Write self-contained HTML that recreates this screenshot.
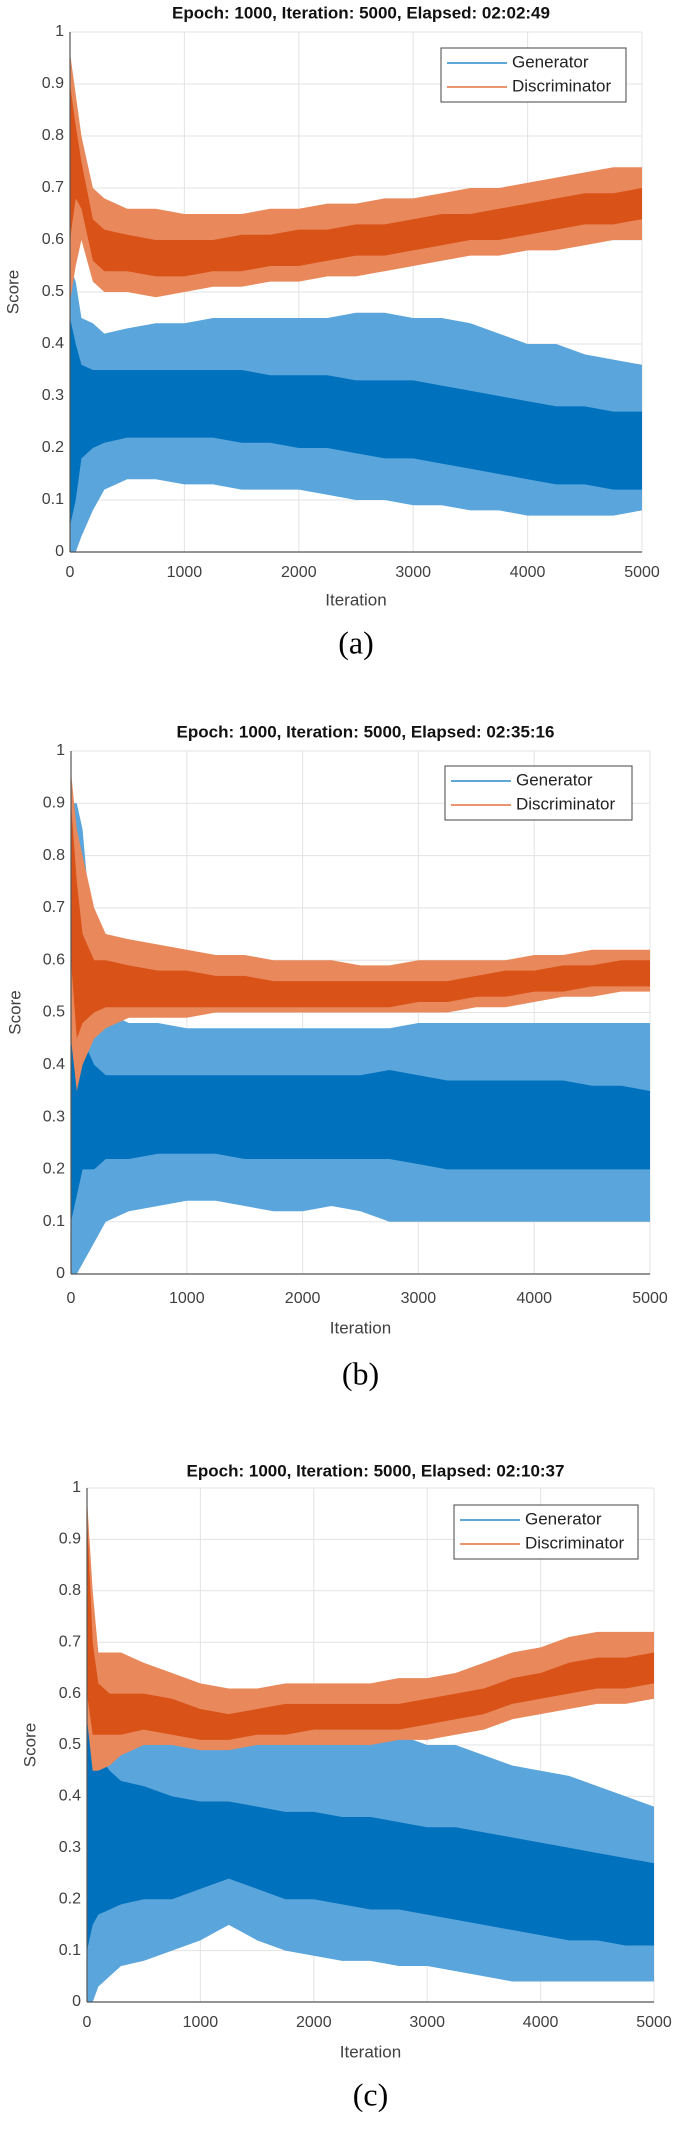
<!DOCTYPE html>
<html><head><meta charset="utf-8"><style>
html,body{margin:0;padding:0;background:#fff;}
svg{display:block;}
</style></head><body>
<svg id="fig" width="685" height="2137" viewBox="0 0 685 2137" xmlns="http://www.w3.org/2000/svg"></svg>
<script>
const iters = [0,50,100,200,300,500,750,1000,1250,1500,1750,2000,2250,2500,2750,3000,3250,3500,3750,4000,4250,4500,4750,5000];
const yTicks = [0,0.1,0.2,0.3,0.4,0.5,0.6,0.7,0.8,0.9,1];
const yTickLabels = ["0","0.1","0.2","0.3","0.4","0.5","0.6","0.7","0.8","0.9","1"];
const xTicks = [0,1000,2000,3000,4000,5000];
const xTickLabels = ["0","1000","2000","3000","4000","5000"];
const titles = ["Epoch: 1000, Iteration: 5000, Elapsed: 02:02:49","Epoch: 1000, Iteration: 5000, Elapsed: 02:35:16","Epoch: 1000, Iteration: 5000, Elapsed: 02:10:37"];
const panelLabels = ["(a)","(b)","(c)"];

// Panel (a)
const aDisOuterLo = [0.48,0.55,0.6,0.52,0.5,0.5,0.49,0.5,0.51,0.51,0.52,0.52,0.53,0.53,0.54,0.55,0.56,0.57,0.57,0.58,0.58,0.59,0.6,0.6];
const aDisCoreLo  = [0.6,0.68,0.66,0.56,0.54,0.54,0.53,0.53,0.54,0.54,0.55,0.55,0.56,0.57,0.57,0.58,0.59,0.6,0.6,0.61,0.62,0.63,0.63,0.64];
const aDisCoreHi  = [0.9,0.82,0.75,0.64,0.62,0.61,0.6,0.6,0.6,0.61,0.61,0.62,0.62,0.63,0.63,0.64,0.65,0.65,0.66,0.67,0.68,0.69,0.69,0.7];
const aDisOuterHi = [0.96,0.88,0.8,0.7,0.68,0.66,0.66,0.65,0.65,0.65,0.66,0.66,0.67,0.67,0.68,0.68,0.69,0.7,0.7,0.71,0.72,0.73,0.74,0.74];
const aGenOuterLo = [0,0,0.03,0.08,0.12,0.14,0.14,0.13,0.13,0.12,0.12,0.12,0.11,0.1,0.1,0.09,0.09,0.08,0.08,0.07,0.07,0.07,0.07,0.08];
const aGenCoreLo  = [0.05,0.1,0.18,0.2,0.21,0.22,0.22,0.22,0.22,0.21,0.21,0.2,0.2,0.19,0.18,0.18,0.17,0.16,0.15,0.14,0.13,0.13,0.12,0.12];
const aGenCoreHi  = [0.45,0.4,0.36,0.35,0.35,0.35,0.35,0.35,0.35,0.35,0.34,0.34,0.34,0.33,0.33,0.33,0.32,0.31,0.3,0.29,0.28,0.28,0.27,0.27];
const aGenOuterHi = [0.55,0.52,0.45,0.44,0.42,0.43,0.44,0.44,0.45,0.45,0.45,0.45,0.45,0.46,0.46,0.45,0.45,0.44,0.42,0.4,0.4,0.38,0.37,0.36];
// Panel (b)
const bDisOuterLo = [0.45,0.35,0.4,0.45,0.47,0.49,0.49,0.49,0.5,0.5,0.5,0.5,0.5,0.5,0.5,0.5,0.5,0.51,0.51,0.52,0.53,0.53,0.54,0.54];
const bDisCoreLo  = [0.6,0.45,0.48,0.5,0.51,0.51,0.51,0.51,0.51,0.51,0.51,0.51,0.51,0.51,0.51,0.52,0.52,0.53,0.53,0.54,0.54,0.55,0.55,0.55];
const bDisCoreHi  = [0.9,0.75,0.65,0.6,0.6,0.59,0.58,0.58,0.57,0.57,0.56,0.56,0.56,0.56,0.56,0.56,0.56,0.57,0.58,0.58,0.59,0.59,0.6,0.6];
const bDisOuterHi = [0.96,0.85,0.8,0.7,0.65,0.64,0.63,0.62,0.61,0.61,0.6,0.6,0.6,0.59,0.59,0.6,0.6,0.6,0.6,0.61,0.61,0.62,0.62,0.62];
const bGenOuterLo = [0,0,0.02,0.06,0.1,0.12,0.13,0.14,0.14,0.13,0.12,0.12,0.13,0.12,0.1,0.1,0.1,0.1,0.1,0.1,0.1,0.1,0.1,0.1];
const bGenCoreLo  = [0.1,0.15,0.2,0.2,0.22,0.22,0.23,0.23,0.23,0.22,0.22,0.22,0.22,0.22,0.22,0.21,0.2,0.2,0.2,0.2,0.2,0.2,0.2,0.2];
const bGenCoreHi  = [0.5,0.55,0.45,0.4,0.38,0.38,0.38,0.38,0.38,0.38,0.38,0.38,0.38,0.38,0.39,0.38,0.37,0.37,0.37,0.37,0.37,0.36,0.36,0.35];
const bGenOuterHi = [0.9,0.9,0.85,0.6,0.5,0.48,0.48,0.47,0.47,0.47,0.47,0.47,0.47,0.47,0.47,0.48,0.48,0.48,0.48,0.48,0.48,0.48,0.48,0.48];
// Panel (c)
const cDisOuterLo = [0.55,0.45,0.45,0.46,0.48,0.5,0.5,0.49,0.49,0.5,0.5,0.5,0.5,0.5,0.51,0.51,0.52,0.53,0.55,0.56,0.57,0.58,0.58,0.59];
const cDisCoreLo  = [0.6,0.52,0.52,0.52,0.52,0.53,0.52,0.51,0.51,0.52,0.52,0.53,0.53,0.53,0.53,0.54,0.55,0.56,0.58,0.59,0.6,0.61,0.61,0.62];
const cDisCoreHi  = [0.95,0.7,0.62,0.6,0.6,0.6,0.59,0.57,0.56,0.57,0.58,0.58,0.58,0.58,0.58,0.59,0.6,0.61,0.63,0.64,0.66,0.67,0.67,0.68];
const cDisOuterHi = [0.98,0.8,0.68,0.68,0.68,0.66,0.64,0.62,0.61,0.61,0.62,0.62,0.62,0.62,0.63,0.63,0.64,0.66,0.68,0.69,0.71,0.72,0.72,0.72];
const cGenOuterLo = [0,0,0.03,0.05,0.07,0.08,0.1,0.12,0.15,0.12,0.1,0.09,0.08,0.08,0.07,0.07,0.06,0.05,0.04,0.04,0.04,0.04,0.04,0.04];
const cGenCoreLo  = [0.1,0.15,0.17,0.18,0.19,0.2,0.2,0.22,0.24,0.22,0.2,0.2,0.19,0.18,0.18,0.17,0.16,0.15,0.14,0.13,0.12,0.12,0.11,0.11];
const cGenCoreHi  = [0.8,0.55,0.48,0.45,0.43,0.42,0.4,0.39,0.39,0.38,0.37,0.37,0.36,0.36,0.35,0.34,0.34,0.33,0.32,0.31,0.3,0.29,0.28,0.27];
const cGenOuterHi = [0.85,0.7,0.55,0.52,0.52,0.52,0.52,0.52,0.52,0.52,0.52,0.52,0.52,0.52,0.52,0.5,0.5,0.48,0.46,0.45,0.44,0.42,0.4,0.38];

const panelData = [
  {gen:[aGenOuterLo,aGenCoreLo,aGenCoreHi,aGenOuterHi], dis:[aDisOuterLo,aDisCoreLo,aDisCoreHi,aDisOuterHi]},
  {gen:[bGenOuterLo,bGenCoreLo,bGenCoreHi,bGenOuterHi], dis:[bDisOuterLo,bDisCoreLo,bDisCoreHi,bDisOuterHi]},
  {gen:[cGenOuterLo,cGenCoreLo,cGenCoreHi,cGenOuterHi], dis:[cDisOuterLo,cDisCoreLo,cDisCoreHi,cDisOuterHi]}
];
const layouts = [
  {x0:70,x1:642,yT:32,yB:552,title:14,tick:573,iter:601,label:646,lx:441,ly:48,lw:185,lh:54,sx:14},
  {x0:71,x1:650,yT:751,yB:1274,title:733,tick:1299,iter:1329,label:1377,lx:445,ly:766,lw:187,lh:54,sx:16},
  {x0:87,x1:654,yT:1488,yB:2002,title:1472,tick:2023,iter:2053,label:2098,lx:454,ly:1505,lw:184,lh:54,sx:31}
];
const NS="http://www.w3.org/2000/svg";
const svg=document.getElementById('fig');
function mk(tag,attrs,parent){const e=document.createElementNS(NS,tag);for(const k in attrs)e.setAttribute(k,attrs[k]);(parent||svg).appendChild(e);return e;}
const SANS='"Liberation Sans", Arial, sans-serif';

layouts.forEach((L,pi)=>{
  const g=mk('g',{});
  
  
  const xs=v=>L.x0+(v/5000)*(L.x1-L.x0);
  const ys=v=>L.yB-v*(L.yB-L.yT);
  xTicks.forEach(t=>{const l=mk('line',{x1:xs(t),x2:xs(t),y1:L.yT,y2:L.yB,stroke:'#e3e3e3','stroke-width':1},g);
    });
  yTicks.forEach(t=>{const l=mk('line',{x1:L.x0,x2:L.x1,y1:ys(t),y2:ys(t),stroke:'#e3e3e3','stroke-width':1},g);
    });
  function band(lo,hi,color,name){
    let pts=iters.map((it,i)=>xs(it)+','+ys(hi[i]));
    pts=pts.concat(iters.map((it,i)=>xs(it)+','+ys(lo[i])).reverse());
    const p=mk('polygon',{points:pts.join(' '),fill:color},g);
    
  }
  const D=panelData[pi];
  band(D.gen[0],D.gen[3],'#5aa5dc','generator-outer-band');
  band(D.gen[1],D.gen[2],'#0072BD','generator-core-band');
  band(D.dis[0],D.dis[3],'#e9895b','discriminator-outer-band');
  band(D.dis[1],D.dis[2],'#D95319','discriminator-core-band');
  const ax=mk('line',{x1:L.x0,x2:L.x0,y1:L.yT,y2:L.yB,stroke:'#555','stroke-width':1.2},g);
  
  const bx=mk('line',{x1:L.x0,x2:L.x1,y1:L.yB,y2:L.yB,stroke:'#555','stroke-width':1.2},g);
  
  yTicks.forEach((t,i)=>{const tx=mk('text',{x:L.x0-6,y:ys(t),'text-anchor':'end','dominant-baseline':'middle','font-family':SANS,'font-size':16,fill:'#404040'},g);
    tx.textContent=yTickLabels[i];});
  xTicks.forEach((t,i)=>{const tx=mk('text',{x:xs(t),y:L.tick,'text-anchor':'middle','dominant-baseline':'middle','font-family':SANS,'font-size':16,fill:'#404040'},g);
    tx.textContent=xTickLabels[i];});
  const xt=mk('text',{x:(L.x0+L.x1)/2,y:L.iter,'text-anchor':'middle','dominant-baseline':'middle','font-family':SANS,'font-size':17,fill:'#404040'},g);
  xt.textContent='Iteration';
  const yc=(L.yT+L.yB)/2;
  const yt=mk('text',{x:L.sx,y:yc,'text-anchor':'middle','dominant-baseline':'middle','font-family':SANS,'font-size':17,fill:'#404040',transform:'rotate(-90 '+L.sx+' '+yc+')'},g);
  yt.textContent='Score';
  const tt=mk('text',{x:(L.x0+L.x1)/2+5,y:L.title,'text-anchor':'middle','dominant-baseline':'middle','font-family':SANS,'font-size':17,'font-weight':'bold',fill:'#111'},g);
  tt.textContent=titles[pi];
  const lg=mk('g',{},g);
  
  mk('rect',{x:L.lx,y:L.ly,width:L.lw,height:L.lh,fill:'#fff',stroke:'#444','stroke-width':1},lg);
  [['Generator','#0072BD'],['Discriminator','#D95319']].forEach((e,i)=>{
    const cy=L.ly+15+i*24;
    const le=mk('g',{},lg);
    
    mk('line',{x1:L.lx+6,x2:L.lx+66,y1:cy,y2:cy,stroke:e[1],'stroke-width':1.3},le);
    const t=mk('text',{x:L.lx+71,y:cy,'dominant-baseline':'middle','font-family':SANS,'font-size':17,fill:'#222'},le);
    t.textContent=e[0];
  });
  const pl=mk('text',{x:(L.x0+L.x1)/2,y:L.label,'text-anchor':'middle','dominant-baseline':'middle','font-family':'"Liberation Serif", serif','font-size':32,fill:'#000'},g);
  pl.textContent=panelLabels[pi];
});
</script>
</body></html>
